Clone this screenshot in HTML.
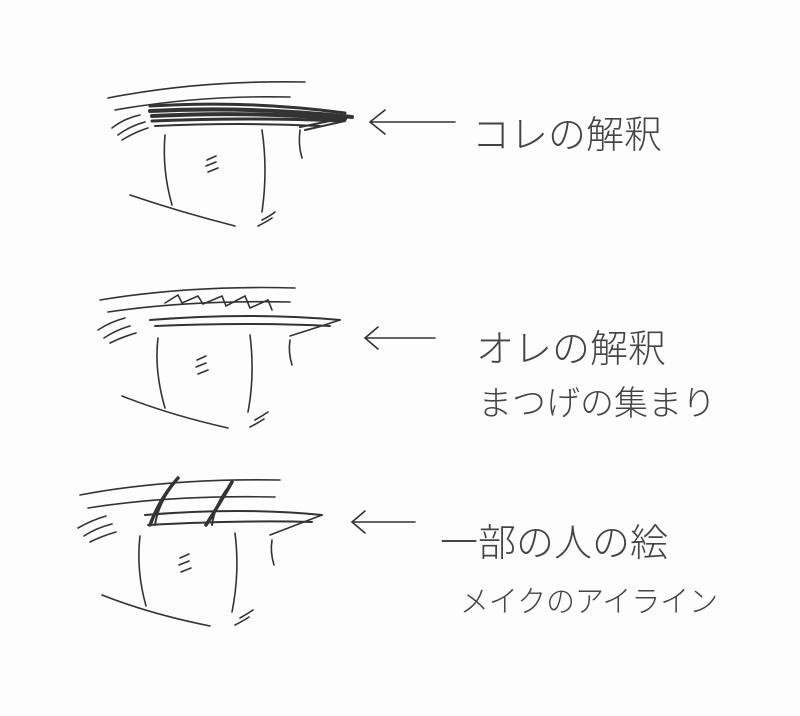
<!DOCTYPE html>
<html><head><meta charset="utf-8"><style>
html,body{margin:0;padding:0;background:#fdfdfd;}
svg{display:block}
text{font-family:"Liberation Sans","Noto Sans CJK JP",sans-serif;fill:#444;font-weight:300;}
</style></head><body>
<svg width="800" height="716" viewBox="0 0 800 716" xmlns="http://www.w3.org/2000/svg">
<g fill="none" stroke="#333" stroke-linecap="round" stroke-width="1.6">
<path d="M108 98 Q200 80 305 82"/>
<path d="M115 110 Q200 95 290 97"/>
<path d="M150 106 Q250 100 345 113" stroke-width="3"/>
<path d="M150 111 Q250 106 352 117" stroke-width="4"/>
<path d="M152 116 Q250 111 345 119" stroke-width="4"/>
<path d="M152 121 Q250 117 340 121" stroke-width="3"/>
<path d="M155 126 Q240 122 320 126" stroke-width="2"/>
<path d="M300 127 L350 117 M305 130 L345 121" stroke-width="2"/>
<path d="M112 128 Q125 118 140 115 M118 135 Q130 126 145 122 M122 140 Q135 132 148 128"/>
<path d="M165 135 Q162 170 172 205"/>
<path d="M262 130 Q268 170 262 212"/>
<path d="M300 130 Q298 145 302 158"/>
<path d="M130 195 Q180 212 235 226"/>
<path d="M262 220 Q270 216 275 212 M258 226 Q266 222 272 218"/>
<path d="M207 160 L216 156 M206 166 L216 162 M208 172 L218 168"/>
<path d="M370 122 L455 122 M385 110 L370 122 L385 134"/>
<path d="M100 300 Q190 285 295 288"/>
<path d="M108 312 Q190 300 290 302"/>
<path d="M150 320 Q250 312 340 320" stroke-width="2"/>
<path d="M155 326 Q250 322 330 326" stroke-width="2"/>
<path d="M290 336 L340 320"/>
<path d="M165 303 L178 295 L182 303 L198 296 L203 304 L222 296 L226 306 L245 296 L250 308 L268 300 L272 310"/>
<path d="M98 330 Q110 322 125 318 M104 338 Q116 330 130 326 M110 343 Q122 337 136 333"/>
<path d="M158 338 Q154 370 165 408"/>
<path d="M250 335 Q255 375 248 412"/>
<path d="M290 340 Q288 352 292 365"/>
<path d="M122 396 Q170 415 228 428"/>
<path d="M255 420 Q262 416 268 412 M250 427 Q258 423 264 419"/>
<path d="M197 360 L206 356 M196 367 L206 363 M198 374 L208 370"/>
<path d="M365 338 L435 338 M378 327 L365 338 L378 349"/>
<path d="M80 495 Q170 478 280 480"/>
<path d="M88 508 Q170 495 275 497"/>
<path d="M145 515 Q240 507 322 515" stroke-width="2"/>
<path d="M148 525 Q240 520 312 522" stroke-width="2"/>
<path d="M270 535 L322 515"/>
<path d="M178 478 Q160 498 150 525" stroke-width="3.5"/>
<path d="M172 486 Q158 505 155 525" stroke-width="2"/>
<path d="M232 482 Q220 503 206 525" stroke-width="3.5"/>
<path d="M226 490 Q214 508 212 525" stroke-width="2"/>
<path d="M78 528 Q92 520 106 516 M84 536 Q96 528 112 524 M90 542 Q102 536 116 532"/>
<path d="M140 536 Q136 570 146 606"/>
<path d="M235 533 Q240 572 232 612"/>
<path d="M272 540 Q270 552 274 565"/>
<path d="M102 595 Q150 614 210 626"/>
<path d="M240 618 Q247 614 253 610 M235 625 Q243 621 249 617"/>
<path d="M180 558 L189 554 M179 565 L189 561 M181 572 L191 568"/>
<path d="M352 522 L415 522 M365 511 L352 522 L365 533"/>
</g>
<text x="472" y="148" font-size="38">コレの解釈</text>
<text x="476" y="362" font-size="38">オレの解釈</text>
<text x="478" y="415" font-size="34">まつげの集まり</text>
<text x="440" y="556" font-size="38">一部の人の絵</text>
<text x="460" y="612" font-size="30" textLength="258" lengthAdjust="spacingAndGlyphs">メイクのアイライン</text>
</svg>
</body></html>
